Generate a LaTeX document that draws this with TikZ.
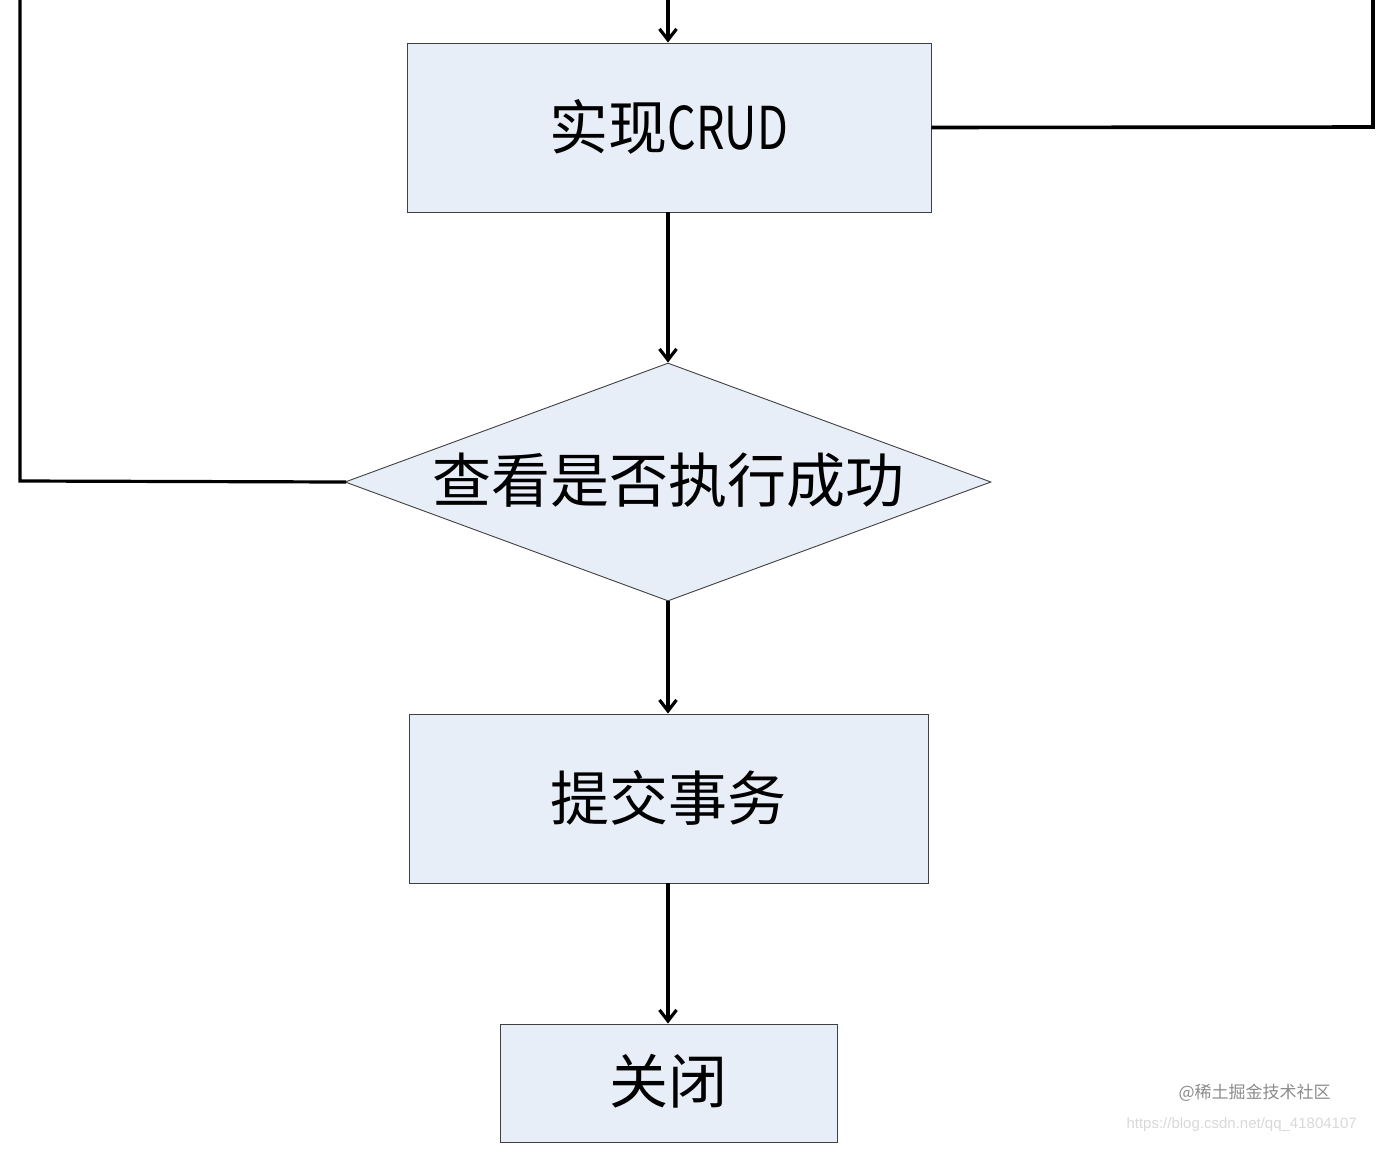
\documentclass[tikz,border=0pt]{standalone}
\usepackage{fontspec}
\newfontfamily\cjk{Noto Sans CJK SC}
\usetikzlibrary{arrows.meta,shapes.geometric}
\definecolor{boxfill}{HTML}{E8EEF7}
\definecolor{boxline}{HTML}{404040}
\tikzset{
  procbox/.style={draw=boxline, line width=0.9pt, fill=boxfill, inner sep=0pt},
  flow/.style={line width=3.2pt, -{Straight Barb[length=11pt,width=17pt,line width=3.2pt]}},
  link/.style={line width=3.2pt},
  lbl/.style={font=\cjk\fontsize{59}{64}\selectfont, text=black}
}
\begin{document}
\begin{tikzpicture}[x=1pt,y=-1pt]
\useasboundingbox (0,0) rectangle (1400,1165);
\fill[white] (0,0) rectangle (1400,1165);
% top entry coordinates
\coordinate (topin) at (668,0);
\coordinate (ltop) at (20,0);
\coordinate (lcorner) at (20,481);
\coordinate (rtop) at (1373,0);
\coordinate (rcorner) at (1373,127);
% nodes
\node[procbox, minimum width=524pt, minimum height=169pt] (crud) at (669,127.5) {};
\node[lbl] at ([yshift=1pt]crud.center) {实现\scalebox{0.76}[1]{CRUD}};
\node[procbox, diamond, aspect=2.714, minimum width=646pt, minimum height=238pt] (chk) at (668,482) {};
\node[lbl] at ([yshift=2pt]chk.center) {查看是否执行成功};
\node[procbox, minimum width=519pt, minimum height=169pt] (commit) at (668.5,798.5) {};
\node[lbl] at ([yshift=1pt]commit.center) {提交事务};
\node[procbox, minimum width=337pt, minimum height=118pt] (close) at (668.5,1083) {};
\node[lbl] at ([yshift=2pt]close.center) {关闭};
% connectors
\draw[flow] (topin) -- (crud.north -| topin);
\draw[flow] (crud.south -| chk.north) -- (chk.north);
\draw[flow] (chk.south) -- (commit.north -| chk.south);
\draw[flow] (commit.south -| chk.south) -- (close.north -| chk.south);
\draw[link, line cap=rect] (chk.west) -- (lcorner) -- (ltop);
\draw[link, line width=3.6pt] (crud.east) -- (rcorner) -- (rtop);
% watermark
\node[font=\cjk\fontsize{17}{20}\selectfont, text=black!45, anchor=west] (wm1) at (1175,1093) {@稀土掘金技术社区};
\node[font=\fontspec{Liberation Sans}\fontsize{15}{18}\selectfont, text=black!15, anchor=west] (wm2) at (1123,1125) {https://blog.csdn.net/qq\_41804107};
\end{tikzpicture}
\end{document}
